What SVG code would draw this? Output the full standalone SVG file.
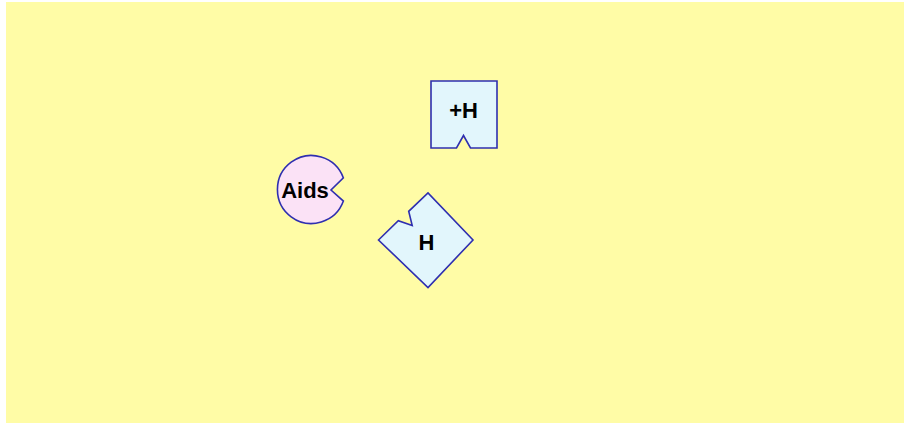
<svg xmlns="http://www.w3.org/2000/svg" width="904" height="423" viewBox="0 0 904 423">
<style>
.node{stroke:#2f2fb0;stroke-width:1.6;stroke-linejoin:miter}
.sq{fill:#e2f6fc}
.ci{fill:#fbe2f6}
.lbl{font-family:"Liberation Sans",Arial,sans-serif;font-weight:bold;font-size:22px;fill:#000;text-anchor:middle}
</style>
<rect x="6" y="2" width="898" height="421" fill="#fffca6"/>
<g id="connectors"></g>
<g id="node-plusH">
<polygon class="node sq" points="431,81 497,81 497,148 470.5,148 463.5,135.5 456.5,148 431,148"/>
<text class="lbl" x="463.5" y="118">+H</text>
</g>
<g id="node-aids">
<path class="node ci" d="M343.4,177.9 A34,34 0 1 0 343.4,201.1 L331,190 Z"/>
<text class="lbl" x="305" y="198">Aids</text>
</g>
<g id="node-H">
<polygon class="node sq" points="378.5,240 398.3,220.7 412.2,225.6 408.7,211.3 428,193 473,240 428,287.5"/>
<text class="lbl" x="426.5" y="250">H</text>
</g>
</svg>
